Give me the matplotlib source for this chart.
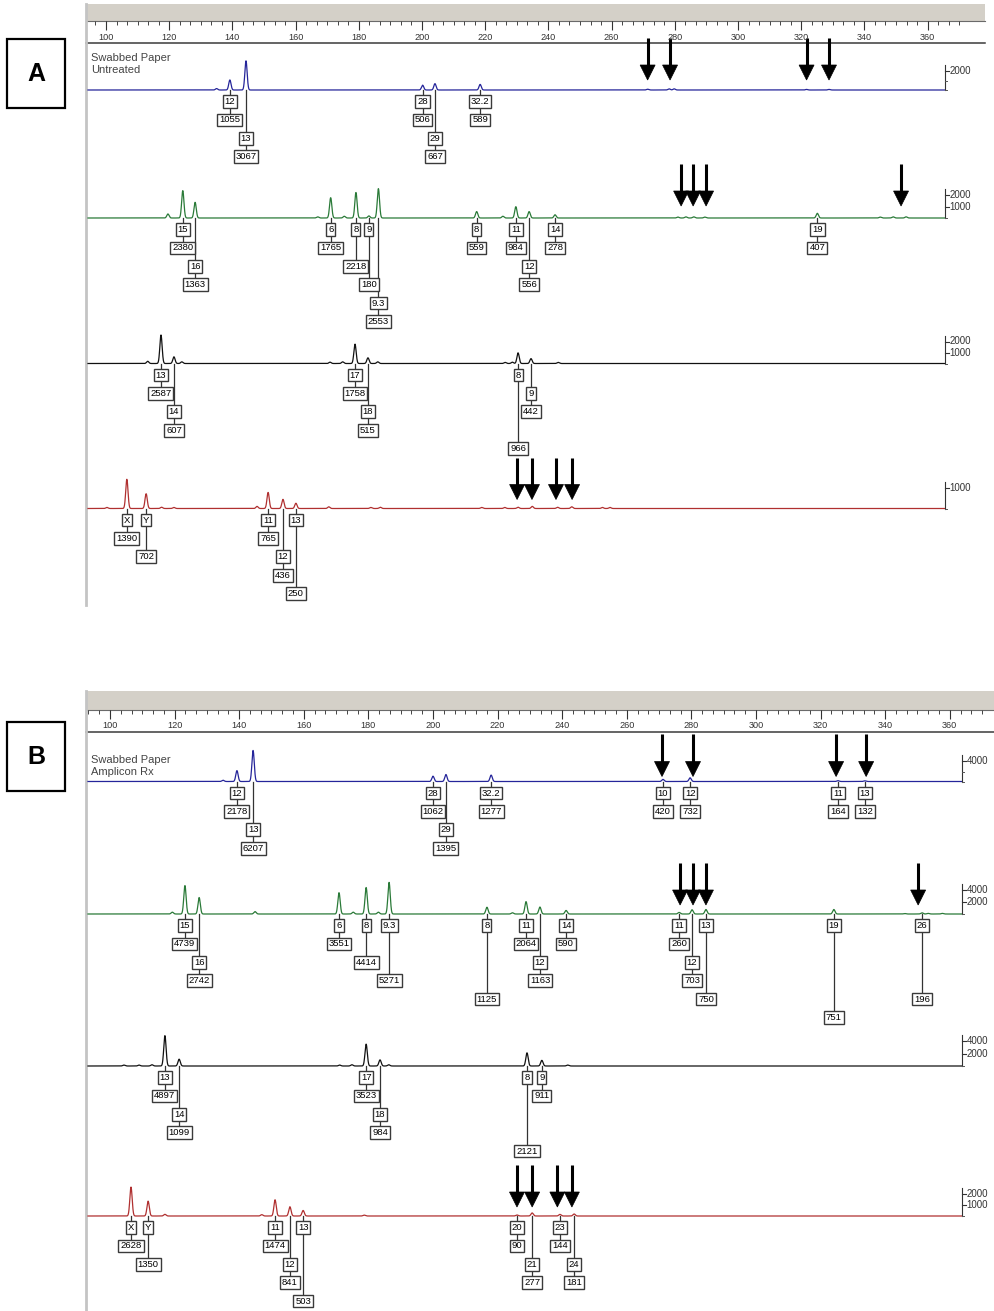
import numpy as np
import matplotlib
matplotlib.use('Agg')
import matplotlib.pyplot as plt
from matplotlib.patches import Rectangle, Polygon

plt.rcParams['font.family'] = ['Liberation Sans', 'DejaVu Sans']

# size ruler (bp)
ruler_major = list(range(100, 361, 20))

# ---------------- Panel A: Swabbed Paper, Untreated ----------------
# labelled peaks: size (bp), allele, height (RFU), (row of allele box, row of height box)
a_blue_size = [139.2, 144.3, 200.2, 204.1, 218.4]
a_blue_allele = ['12', '13', '28', '29', '32.2']
a_blue_rfu = [1055, 3067, 506, 667, 589]
a_blue_rows = [(0, 1), (2, 3), (0, 1), (2, 3), (0, 1)]
a_blue_minor_size = [135.0, 271.4, 278.2, 279.8, 321.7, 328.8]
a_blue_minor_rfu = [150, 80, 120, 120, 60, 60]
a_blue_arrows = [271.4, 278.5, 321.7, 328.8]

a_green_size = [124.3, 128.2, 171.1, 179.1, 183.2, 186.2, 217.3, 229.7, 233.9, 242.1, 325.1]
a_green_allele = ['15', '16', '6', '8', '9', '9.3', '8', '11', '12', '14', '19']
a_green_rfu = [2380, 1363, 1765, 2218, 180, 2553, 559, 984, 556, 278, 407]
a_green_rows = [(0, 1), (2, 3), (0, 1), (0, 2), (0, 3), (4, 5), (0, 1), (0, 1), (2, 3), (0, 1), (0, 1)]
a_green_minor_size = [119.6, 167.0, 175.4, 225.6, 281.0, 283.5, 286.0, 289.5, 345.0, 349.1, 353.2]
a_green_minor_rfu = [350, 100, 150, 150, 80, 100, 100, 80, 80, 100, 100]
a_green_arrows = [282.0, 285.8, 289.9, 351.6]

a_black_size = [117.4, 121.5, 178.8, 182.9, 230.4, 234.5]
a_black_allele = ['13', '14', '17', '18', '8', '9']
a_black_rfu = [2587, 607, 1758, 515, 966, 442]
a_black_rows = [(0, 1), (2, 3), (0, 1), (2, 3), (0, 4), (1, 2)]
a_black_minor_size = [113.2, 124.0, 170.9, 174.9, 186.0, 226.3, 228.6, 243.1]
a_black_minor_rfu = [200, 150, 120, 150, 150, 100, 120, 100]

a_red_size = [106.6, 112.7, 151.3, 156.0, 160.1]
a_red_allele = ['X', 'Y', '11', '12', '13']
a_red_rfu = [1390, 702, 765, 436, 250]
a_red_rows = [(0, 1), (0, 2), (0, 1), (2, 3), (0, 4)]
a_red_minor_size = [100.3, 117.6, 121.5, 147.8, 170.5, 183.8, 186.8, 218.9, 226.2,
                    230.4, 234.9, 242.9, 247.4, 257.1, 259.5]
a_red_minor_rfu = [50, 60, 50, 100, 80, 50, 60, 50, 50, 60, 100, 60, 80, 50, 50]
a_red_arrows = [230.1, 234.8, 242.4, 247.5]

# ---------------- Panel B: Swabbed Paper, Amplicon Rx ----------------
b_blue_size = [139.3, 144.3, 200.0, 204.0, 218.0, 271.2, 279.6, 325.4, 333.7]
b_blue_allele = ['12', '13', '28', '29', '32.2', '10', '12', '11', '13']
b_blue_rfu = [2178, 6207, 1062, 1395, 1277, 420, 732, 164, 132]
b_blue_rows = [(0, 1), (2, 3), (0, 1), (2, 3), (0, 1), (0, 1), (0, 1), (0, 1), (0, 1)]
b_blue_minor_size = [135.0]
b_blue_minor_rfu = [250]
b_blue_arrows = [270.9, 280.5, 324.8, 334.1]

b_green_size = [123.2, 127.6, 170.9, 179.3, 186.4, 216.7, 228.8, 233.1, 241.2,
                276.2, 280.2, 284.5, 324.1, 351.4]
b_green_allele = ['15', '16', '6', '8', '9.3', '8', '11', '12', '14', '11', '12', '13', '19', '26']
b_green_rfu = [4739, 2742, 3551, 4414, 5271, 1125, 2064, 1163, 590, 260, 703, 750, 751, 196]
b_green_rows = [(0, 1), (2, 3), (0, 1), (0, 2), (0, 3), (0, 4), (0, 1), (2, 3), (0, 1),
                (0, 1), (2, 3), (0, 4), (0, 5), (0, 4)]
b_green_minor_size = [119.3, 144.9, 175.3, 183.1, 224.6, 346.0, 353.3, 357.7]
b_green_minor_rfu = [300, 400, 300, 300, 200, 80, 100, 100]
b_green_arrows = [276.5, 280.5, 284.5, 350.2]

b_black_size = [117.0, 121.4, 179.3, 183.6, 229.1, 233.7]
b_black_allele = ['13', '14', '17', '18', '8', '9']
b_black_rfu = [4897, 1099, 3523, 984, 2121, 911]
b_black_rows = [(0, 1), (2, 3), (0, 1), (2, 3), (0, 4), (0, 1)]
b_black_minor_size = [104.3, 109.0, 113.0, 171.1, 174.9, 186.3, 241.7]
b_black_minor_rfu = [150, 150, 200, 150, 200, 200, 150]

b_red_size = [106.5, 111.8, 151.1, 155.7, 159.8, 226.0, 230.7, 239.3, 243.7]
b_red_allele = ['X', 'Y', '11', '12', '13', '20', '21', '23', '24']
b_red_rfu = [2628, 1350, 1474, 841, 503, 90, 277, 144, 181]
b_red_rows = [(0, 1), (0, 2), (0, 1), (2, 3), (0, 4), (0, 1), (2, 3), (0, 1), (2, 3)]
b_red_minor_size = [117.0, 147.0, 178.7]
b_red_minor_rfu = [150, 120, 80]
b_red_arrows = [226.0, 230.7, 238.5, 243.0]

# ---------------- drawing ----------------
W, H = 995, 1311
fig = plt.figure(figsize=(W / 100, H / 100), dpi=100)
lay = fig.add_axes([0, 0, 1, 1])
lay.set_xlim(0, W)
lay.set_ylim(H, 0)
lay.axis('off')

ROW0, ROWH = 11.5, 18.4
BOX = dict(boxstyle='square,pad=0.2', fc='white', ec='#3a3a3a', lw=1.0)


def panel_axes(y0, y1, bp_left, ppb):
    ax = fig.add_axes([86 / W, 1 - y1 / H, (W - 86) / W, (y1 - y0) / H])
    ax.set_xlim(bp_left, bp_left + (W - 86) / ppb)
    ax.set_ylim(y1, y0)
    ax.axis('off')
    return ax


def draw_header(ax, ppb, bar_top, bar_bot, label_y, line_y, right_px, border_bot):
    lay.add_patch(Rectangle((86, bar_top), right_px - 86, bar_bot - bar_top,
                            fc='#d4d0c8', ec='none'))
    lay.plot([86, right_px], [bar_bot, bar_bot], color='#6a6a6a', lw=0.8)
    lay.plot([86, right_px], [line_y, line_y], color='#3a3a3a', lw=1.1)
    lay.plot([86, 86], [bar_top, border_bot], color='#c4c4c4', lw=2)
    minor = np.arange(90, 372, 20 / 6)
    ax.vlines(minor, bar_bot, bar_bot + 4, color='#444444', lw=0.7)
    ax.vlines(ruler_major, bar_bot, bar_bot + 9, color='#333333', lw=0.8)
    for v in ruler_major:
        ax.text(v, label_y, str(v), ha='center', va='center', fontsize=6.6, color='#333333')


def draw_channel(ax, ppb, x_from, x_to, base, k, color, size, allele, rfu, rows,
                 minor_size, minor_rfu, arrows=(), gap=10, ticks=(), sub=()):
    grid = np.arange(x_from, x_to, 0.03)
    trace = np.zeros_like(grid)
    for s, h in zip(list(size) + list(minor_size), list(rfu) + list(minor_rfu)):
        trace += h * np.exp(-0.5 * ((grid - s) / 0.36) ** 2)
    ax.plot(grid, base - trace * k, color=color, lw=0.9, zorder=2)

    # allele / height labels
    for s, a, h, (ra, rc) in zip(size, allele, rfu, rows):
        ya = base + ROW0 + ROWH * ra
        yc = base + ROW0 + ROWH * rc
        ax.plot([s, s], [base, yc], color='#333333', lw=0.9, zorder=3)
        ax.text(s, ya, a, ha='center', va='center', fontsize=6.8, bbox=BOX, zorder=4)
        ax.text(s, yc, str(h), ha='center', va='center', fontsize=6.8, bbox=BOX, zorder=4)

    # intensity scale
    top = base - max(ticks) * k - 6
    ax.plot([x_to, x_to], [top, base], color='#333333', lw=0.8)
    for t in ticks:
        ax.plot([x_to, x_to + 4 / ppb], [base - t * k] * 2, color='#333333', lw=0.8)
        ax.text(x_to + 4.5 / ppb, base - t * k, str(t), ha='left', va='center',
                fontsize=7, color='#333333')
    for t in list(sub) + [0]:
        ax.plot([x_to, x_to + 2 / ppb], [base - t * k] * 2, color='#555555', lw=0.7)

    # arrows
    for s in arrows:
        tip = base - gap
        ax.plot([s, s], [tip - 42, tip - 13], color='black', lw=2.2, solid_capstyle='butt')
        hw = 7.5 / ppb
        ax.add_patch(Polygon([(s - hw, tip - 15), (s + hw, tip - 15), (s, tip)],
                             closed=True, fc='black', ec='black', lw=0.5, zorder=5))


# Panel A
ppa = 3.16
axA = panel_axes(0, 655, 100 + (86 - 106) / ppa, ppa)
draw_header(axA, ppa, 4, 21, 37.5, 43, 985, 605)
xa0, xa1 = 100 + (88 - 106) / ppa, 100 + (945 - 106) / ppa
draw_channel(axA, ppa, xa0, xa1, 90, 0.0095, '#25259a', a_blue_size, a_blue_allele,
             a_blue_rfu, a_blue_rows, a_blue_minor_size, a_blue_minor_rfu,
             a_blue_arrows, 10, ticks=[2000], sub=[1000])
draw_channel(axA, ppa, xa0, xa1, 218, 0.0115, '#2a7a38', a_green_size, a_green_allele,
             a_green_rfu, a_green_rows, a_green_minor_size, a_green_minor_rfu,
             a_green_arrows, 12, ticks=[2000, 1000])
draw_channel(axA, ppa, xa0, xa1, 363.5, 0.011, '#111111', a_black_size, a_black_allele,
             a_black_rfu, a_black_rows, a_black_minor_size, a_black_minor_rfu,
             ticks=[2000, 1000])
draw_channel(axA, ppa, xa0, xa1, 508.5, 0.021, '#b03030', a_red_size, a_red_allele,
             a_red_rfu, a_red_rows, a_red_minor_size, a_red_minor_rfu,
             a_red_arrows, 9, ticks=[1000])
axA.text(100 + (91 - 106) / ppa, 64, 'Swabbed Paper\nUntreated', ha='left', va='center',
         fontsize=8, color='#444444', linespacing=1.2)

# Panel B
ppb_ = 3.23
axB = panel_axes(655, 1311, 100 + (86 - 110) / ppb_, ppb_)
draw_header(axB, ppb_, 691, 710, 725.5, 732, 995, 1311)
xb0, xb1 = 100 + (88 - 110) / ppb_, 100 + (962 - 110) / ppb_
draw_channel(axB, ppb_, xb0, xb1, 781.5, 0.005, '#25259a', b_blue_size, b_blue_allele,
             b_blue_rfu, b_blue_rows, b_blue_minor_size, b_blue_minor_rfu,
             b_blue_arrows, 5, ticks=[4000], sub=[2000])
draw_channel(axB, ppb_, xb0, xb1, 914, 0.006, '#2a7a38', b_green_size, b_green_allele,
             b_green_rfu, b_green_rows, b_green_minor_size, b_green_minor_rfu,
             b_green_arrows, 9, ticks=[4000, 2000])
draw_channel(axB, ppb_, xb0, xb1, 1066, 0.0062, '#111111', b_black_size, b_black_allele,
             b_black_rfu, b_black_rows, b_black_minor_size, b_black_minor_rfu,
             ticks=[4000, 2000])
draw_channel(axB, ppb_, xb0, xb1, 1216, 0.011, '#b03030', b_red_size, b_red_allele,
             b_red_rfu, b_red_rows, b_red_minor_size, b_red_minor_rfu,
             b_red_arrows, 9, ticks=[2000, 1000])
axB.text(100 + (91 - 110) / ppb_, 766, 'Swabbed Paper\nAmplicon Rx', ha='left', va='center',
         fontsize=8, color='#444444', linespacing=1.2)

# panel letters
for letter, y0 in [('A', 39), ('B', 722)]:
    lay.add_patch(Rectangle((7, y0), 58, 69, fill=False, ec='black', lw=1.6))
    lay.text(36, y0 + 35, letter, ha='center', va='center', fontsize=18, weight='bold')

fig.savefig('out.png', dpi=100)
